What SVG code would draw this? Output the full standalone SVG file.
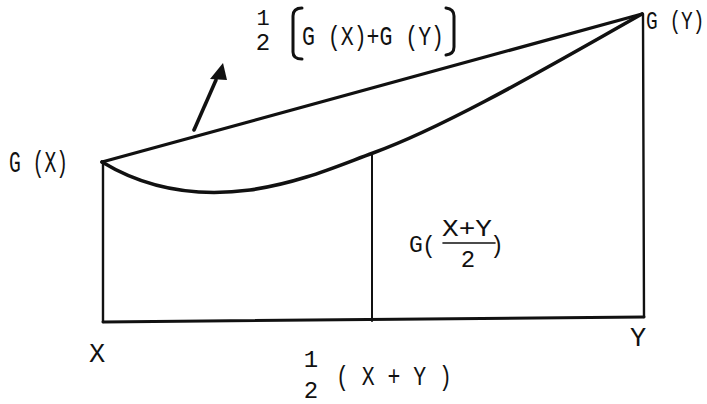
<svg xmlns="http://www.w3.org/2000/svg" width="707" height="404" viewBox="0 0 707 404">
<style>
.t{font-family:"Liberation Mono","DejaVu Sans Mono",monospace;fill:#111;}
.ln{fill:none;stroke:#111;stroke-linecap:round;stroke-linejoin:round;}
</style>
<rect width="707" height="404" fill="#fff"/>
<g id="connectors">
<path class="ln" d="M102,162 L642,14" stroke-width="3.2"/>
<path class="ln" d="M102,162 C140,185 190,198 250,190 C300,183 340,165 373,153 C450,125 560,60 642,14" stroke-width="3.6"/>
<path class="ln" d="M103,162 L103,322" stroke-width="2.4"/>
<path class="ln" d="M643,14 L644,317" stroke-width="2.4"/>
<path class="ln" d="M372,154 L372,321" stroke-width="2"/>
<path class="ln" d="M103,322 L644,317" stroke-width="3"/>
<path class="ln" d="M194,130 L216,80" stroke-width="3.6"/>
<path d="M223,63 L210,79 L227,80 z" fill="#111"/>
<path class="ln" d="M302,8 Q293,8 293,16 L293,52 Q293,59 302,59" stroke-width="3"/>
<path class="ln" d="M446,8 Q454,9 454,16 L454,47 Q454,54 446,55" stroke-width="3"/>
<path class="ln" d="M443,243 L495,243" stroke-width="1.6"/>
</g>
<g id="label-gx">
<text class="t" x="9" y="172" font-size="29" textLength="59" lengthAdjust="spacingAndGlyphs">G (X)</text>
</g>
<g id="label-gy">
<text class="t" transform="translate(646,29) scale(1,1.3)" x="0" y="0" font-size="19.5">G (Y)</text>
</g>
<g id="label-mean">
<text class="t" x="263" y="25" font-size="22" text-anchor="middle">1</text>
<text class="t" x="263" y="50" font-size="24" text-anchor="middle">2</text>
<text class="t" x="302" y="45" font-size="28" textLength="142" lengthAdjust="spacingAndGlyphs">G (X)+G (Y)</text>
</g>
<g id="label-gmid">
<text class="t" x="409" y="252" font-size="23">G</text>
<text class="t" x="422" y="253" font-size="23">(</text>
<text class="t" x="442" y="236" font-size="24" textLength="50" lengthAdjust="spacingAndGlyphs">X+Y</text>
<text class="t" x="468" y="267" font-size="24" text-anchor="middle">2</text>
<text class="t" x="490" y="253" font-size="23">)</text>
</g>
<g id="label-x">
<text class="t" x="97" y="362" font-size="27" text-anchor="middle">X</text>
</g>
<g id="label-y">
<text class="t" x="638" y="346" font-size="27" text-anchor="middle">Y</text>
</g>
<g id="label-half">
<text class="t" x="311" y="367" font-size="24" text-anchor="middle">1</text>
<text class="t" x="311" y="398" font-size="24" text-anchor="middle">2</text>
<text class="t" x="336" y="385" font-size="28" textLength="116" lengthAdjust="spacingAndGlyphs">( X + Y )</text>
</g>
</svg>
